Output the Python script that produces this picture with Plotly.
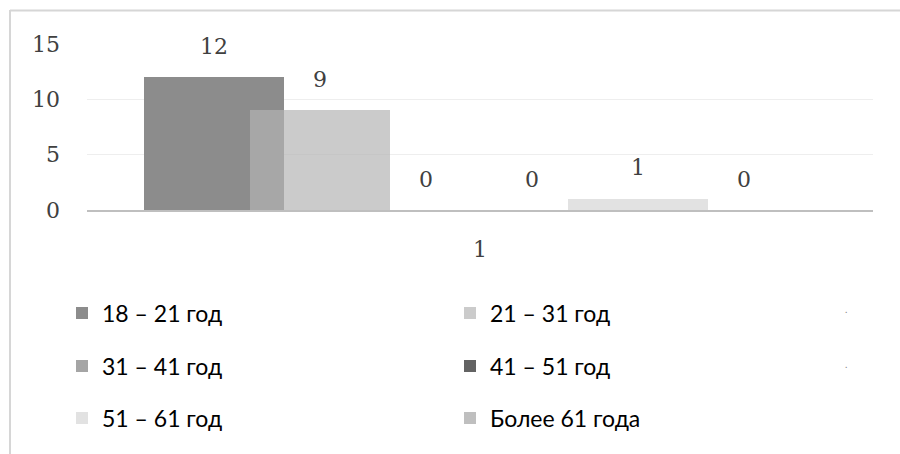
import plotly.graph_objects as go

# ---------------- data ----------------
categories = ["1"]
series_names = ["18 – 21 год", "21 – 31 год", "31 – 41 год",
                "41 – 51 год", "51 – 61 год", "Более 61 года"]
series_values = [12, 9, 0, 0, 1, 0]
y_ticks = [0, 5, 10, 15]

# ---------------- styles ----------------
colors = ["#8c8c8c", "rgba(180,180,180,0.69)", "#a5a5a5",
          "#636363", "#e2e2e2", "#bfbfbf"]

W, H = 900, 454
L, R, T, B = 87, 27, 44, 244
PW, PH = W - L - R, H - T - B

def px_x(px):
    return (px - L) / PW

def px_y(py):
    return (H - B - py) / PH

bar_width = 0.178
bar_step = 0.1349
first_offset = -0.4275

# legend positions (pixel) for each entry: column x, row y
legend_cols = [62, 450]
legend_rows = [313, 366, 418]

fig = go.Figure()
for i, (name, val) in enumerate(zip(series_names, series_values)):
    lname = "legend" if i == 0 else f"legend{i + 1}"
    fig.add_trace(go.Bar(
        x=categories, y=[val], name=name,
        marker=dict(color=colors[i], line=dict(width=0)),
        width=bar_width, offset=first_offset + i * bar_step,
        legend=lname, hoverinfo="skip",
    ))
    # data label
    fig.add_annotation(
        x=first_offset + i * bar_step + bar_width / 2, y=val,
        xref="x", yref="y", text=str(val), showarrow=False,
        yanchor="middle", yshift=31,
        font=dict(family="DejaVu Serif", size=22, color="#404040"),
    )

legend_layout = {}
for i in range(len(series_names)):
    lname = "legend" if i == 0 else f"legend{i + 1}"
    col, row = i % 2, i // 2
    legend_layout[lname] = dict(
        x=px_x(legend_cols[col]), y=px_y(legend_rows[row]),
        xanchor="left", yanchor="middle",
        orientation="h", bgcolor="rgba(0,0,0,0)",
        font=dict(family="Lato", size=23, color="#000000"),
        itemclick=False, itemdoubleclick=False,
    )

# decorative frame lines and stray dots
shapes = [
    dict(type="line", xref="paper", yref="paper",
         x0=px_x(10), x1=px_x(900), y0=px_y(10.5), y1=px_y(10.5),
         line=dict(color="#d6d6d6", width=2)),
    dict(type="line", xref="paper", yref="paper",
         x0=px_x(10), x1=px_x(10), y0=px_y(10), y1=px_y(454),
         line=dict(color="#d6d6d6", width=2)),
]
for yy in (317, 372):
    fig.add_annotation(xref="paper", yref="paper", x=px_x(846), y=px_y(yy),
                       text=".", showarrow=False, xanchor="center",
                       yanchor="bottom",
                       font=dict(family="Lato", size=10, color="#888888"))

fig.update_layout(
    width=W, height=H,
    margin=dict(l=L, r=R, t=T, b=B, pad=0),
    paper_bgcolor="white", plot_bgcolor="white",
    barmode="overlay", bargap=0,
    shapes=shapes,
    showlegend=True,
    **legend_layout,
)
fig.update_xaxes(
    type="category", range=[-0.5, 0.5],
    showgrid=False, zeroline=False,
    showline=True, linecolor="#bfbfbf", linewidth=2,
    ticks="", ticklabelstandoff=19,
    tickfont=dict(family="DejaVu Serif", size=22, color="#404040"),
    fixedrange=True,
)
fig.update_yaxes(
    range=[0, 15], tickvals=y_ticks,
    showgrid=True, gridcolor="#eeeeee", gridwidth=1,
    zeroline=False, showline=False,
    ticks="", ticklabelstandoff=26,
    tickfont=dict(family="DejaVu Serif", size=22, color="#404040"),
    fixedrange=True,
)

fig.write_html("out.html", config={"displayModeBar": False})
